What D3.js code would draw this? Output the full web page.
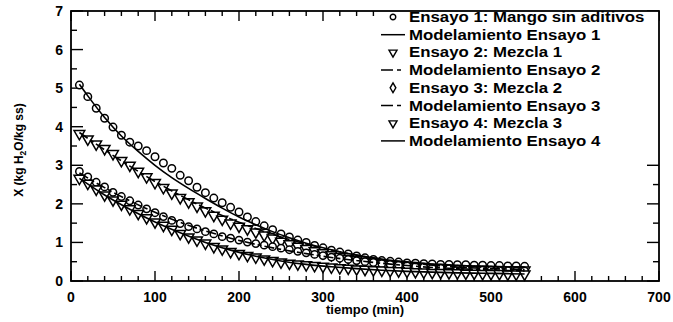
<!DOCTYPE html>
<html><head><meta charset="utf-8">
<script src="https://cdn.jsdelivr.net/npm/d3@7/dist/d3.min.js"></script>
<style>body{margin:0;background:#fff}svg{display:block}text{font-family:"Liberation Sans",Arial,sans-serif;font-weight:bold;fill:#000}</style>
</head><body><svg id="c" width="673" height="322"></svg>
<script>
const tData = d3.range(10, 541, 10);
const ensayo1 = [5.08,4.78,4.48,4.22,3.99,3.78,3.60,3.50,3.38,3.22,3.06,2.92,2.74,2.60,2.43,2.29,2.15,2.03,1.91,1.79,1.66,1.54,1.43,1.33,1.22,1.14,1.06,1.00,0.92,0.86,0.80,0.75,0.70,0.65,0.60,0.56,0.53,0.51,0.49,0.47,0.46,0.45,0.44,0.43,0.43,0.42,0.42,0.41,0.41,0.40,0.40,0.39,0.39,0.38];
const ensayo2 = [3.82,3.68,3.55,3.43,3.30,3.12,3.00,2.84,2.70,2.55,2.42,2.28,2.16,2.05,1.94,1.82,1.70,1.60,1.50,1.42,1.35,1.27,1.19,1.11,1.03,0.96,0.90,0.84,0.78,0.73,0.68,0.63,0.59,0.55,0.51,0.48,0.45,0.42,0.40,0.38,0.36,0.35,0.34,0.33,0.32,0.31,0.31,0.30,0.30,0.29,0.29,0.28,0.28,0.28];
const ensayo3 = [2.84,2.70,2.56,2.44,2.30,2.19,2.08,1.97,1.87,1.77,1.67,1.57,1.49,1.41,1.35,1.28,1.22,1.15,1.11,1.06,1.01,0.97,0.93,0.89,0.85,0.81,0.77,0.73,0.69,0.66,0.62,0.59,0.56,0.53,0.50,0.48,0.45,0.43,0.41,0.39,0.37,0.36,0.34,0.33,0.32,0.31,0.30,0.29,0.28,0.28,0.27,0.27,0.26,0.26];
const ensayo4 = [2.66,2.53,2.38,2.23,2.10,1.99,1.87,1.75,1.64,1.53,1.44,1.34,1.23,1.14,1.06,0.98,0.89,0.83,0.76,0.71,0.66,0.62,0.57,0.53,0.49,0.46,0.44,0.42,0.40,0.38,0.36,0.34,0.33,0.31,0.30,0.29,0.28,0.27,0.26,0.25,0.24,0.23,0.22,0.22,0.21,0.21,0.20,0.20,0.19,0.19,0.19,0.18,0.18,0.18];

const tModel1 = [10,20,40,60,80,100,120,140,160,180,200,220,240,260,280,300,320,340,360,380,400,420,440,460,480,500,520,540];
const modelo1 = [5.10,4.80,4.24,3.76,3.36,3.00,2.68,2.40,2.14,1.89,1.66,1.46,1.28,1.12,0.98,0.86,0.76,0.67,0.60,0.54,0.50,0.46,0.43,0.41,0.39,0.38,0.37,0.36];
const tModel = [10,40,70,100,130,160,190,220,250,280,310,340,370,400,430,460,490,520,540];
const modelo2 = [3.85,3.40,2.98,2.58,2.22,1.89,1.61,1.36,1.14,0.96,0.80,0.67,0.56,0.48,0.41,0.36,0.33,0.31,0.30];
const modelo3 = [2.80,2.42,2.08,1.78,1.52,1.30,1.11,0.95,0.82,0.71,0.61,0.53,0.46,0.40,0.35,0.32,0.29,0.27,0.26];
const modelo4 = [2.66,2.23,1.86,1.53,1.25,1.00,0.80,0.64,0.52,0.43,0.37,0.32,0.28,0.25,0.23,0.21,0.20,0.19,0.18];

const xTicks = [0,100,200,300,400,500,600,700];
const yTicks = [0,1,2,3,4,5,6,7];
const legendLabels = ["Ensayo 1: Mango sin aditivos","Modelamiento Ensayo 1","Ensayo 2: Mezcla 1","Modelamiento Ensayo 2","Ensayo 3: Mezcla 2","Modelamiento Ensayo 3","Ensayo 4: Mezcla 3","Modelamiento Ensayo 4"];

const svg = d3.select("#c");
const L=71,R=659,T=11,B=281;
const x = d3.scaleLinear().domain([0,700]).range([L,R]);
const y = d3.scaleLinear().domain([0,7]).range([B,T]);

const sym = {
  circle: d3.symbol().type(d3.symbolCircle).size(44),
  tri: d3.symbol().type(d3.symbolTriangle).size(50),
  diamond: d3.symbol().type(d3.symbolCircle).size(42)
};
const series = [
  {vals:ensayo1, shape:"circle", rot:0},
  {vals:ensayo2, shape:"tri", rot:180},
  {vals:ensayo3, shape:"diamond", rot:0},
  {vals:ensayo4, shape:"tri", rot:180}
];
const models = [
  {ts:tModel1, v:modelo1, dash:null},
  {ts:tModel, v:modelo2, dash:"10,3,4,3"},
  {ts:tModel, v:modelo3, dash:"10,3,4,3"},
  {ts:tModel, v:modelo4, dash:null}
];

// ticks (drawn first so the legend covers them)
const xMinor = d3.range(0,701,20);
const yMinor = d3.range(0,7.01,0.5);
const tg = svg.append("g").attr("stroke","#000").attr("stroke-width",1.4);
xMinor.forEach(v=>{
  const len = v%100===0?10:5;
  tg.append("line").attr("x1",x(v)).attr("x2",x(v)).attr("y1",B).attr("y2",B-len);
  tg.append("line").attr("x1",x(v)).attr("x2",x(v)).attr("y1",T).attr("y2",T+len);
});
yMinor.forEach(v=>{
  const len = Math.abs(v-Math.round(v))<1e-6?12:6;
  tg.append("line").attr("x1",L).attr("x2",L+len).attr("y1",y(v)).attr("y2",y(v));
  tg.append("line").attr("x1",R).attr("x2",R-len).attr("y1",y(v)).attr("y2",y(v));
});

// data markers
const gp = svg.append("g");
series.forEach(s=>{
  gp.selectAll(null).data(tData.map((t,i)=>[t,s.vals[i]])).join("path")
    .attr("d", sym[s.shape]())
    .attr("transform", d=>`translate(${x(d[0])},${y(d[1])}) rotate(${s.rot})`)
    .attr("fill","#fff").attr("stroke","#000").attr("stroke-width",1.5);
});
const line = (ts)=>d3.line().x((d,i)=>x(ts[i])).y(d=>y(d)).curve(d3.curveMonotoneX);
models.forEach(m=>{
  svg.append("path").attr("d", line(m.ts)(m.v)).attr("fill","none")
    .attr("stroke","#000").attr("stroke-width",1.6).attr("stroke-dasharray", m.dash);
});

// legend
const lg = svg.append("g");
lg.append("rect").attr("x",378).attr("y",T).attr("width",R-378).attr("height",140).attr("fill","#fff");
const lsym = {
  circle: d3.symbol().type(d3.symbolCircle).size(24),
  tri: d3.symbol().type(d3.symbolTriangle).size(28),
  diamond: d3.symbol().type(d3.symbolDiamond).size(28)
};
legendLabels.forEach((lab,i)=>{
  const yy = 17 + i*17.7;
  if(i%2===0){
    const s = series[i/2];
    lg.append("path").attr("d", lsym[s.shape]())
      .attr("transform",`translate(393,${yy}) rotate(${s.rot})`)
      .attr("fill","#fff").attr("stroke","#000").attr("stroke-width",1.4);
  } else {
    const m = models[(i-1)/2];
    lg.append("line").attr("x1",381).attr("x2",405).attr("y1",yy).attr("y2",yy)
      .attr("stroke","#000").attr("stroke-width",1.5).attr("stroke-dasharray", m.dash? "12,4,4,4":null);
  }
  const t = lg.append("text").attr("x",409).attr("y",yy+5).attr("font-size",14).text(lab);
  const len = t.node().getComputedTextLength();
  t.attr("textLength", len*1.2).attr("lengthAdjust","spacingAndGlyphs");
});

// frame
svg.append("rect").attr("x",L).attr("y",T).attr("width",R-L).attr("height",B-T)
  .attr("fill","none").attr("stroke","#000").attr("stroke-width",1.8);

// tick labels
svg.selectAll(null).data(xTicks).join("text").attr("x",d=>x(d)).attr("y",302)
  .attr("text-anchor","middle").attr("font-size",14).text(d=>d);
svg.selectAll(null).data(yTicks).join("text").attr("x",63).attr("y",d=>y(d)+5)
  .attr("text-anchor","end").attr("font-size",14).text(d=>d);

// axis titles
svg.append("text").attr("x",365).attr("y",314).attr("text-anchor","middle").attr("font-size",13).text("tiempo (min)");
const yt = svg.append("text").attr("transform","translate(23,150) rotate(-90)").attr("text-anchor","middle").attr("font-size",12);
yt.append("tspan").text("X (kg H");
yt.append("tspan").attr("font-size",8.5).attr("dy",3).text("2");
yt.append("tspan").attr("dy",-3).text("O/kg ss)");
</script></body></html>
